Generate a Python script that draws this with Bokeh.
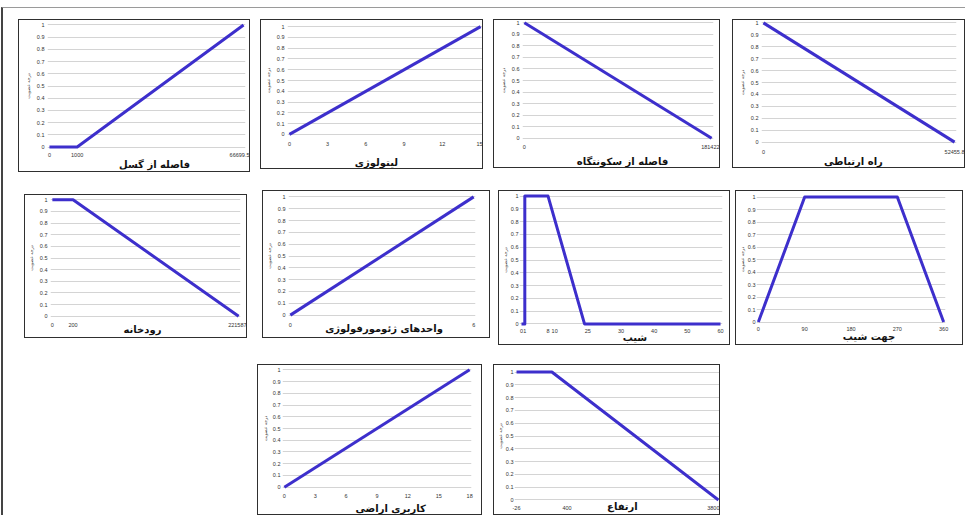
from bokeh.plotting import figure
from bokeh.layouts import row, column
from bokeh.models import Range1d, FixedTicker, PrintfTickFormatter, LinearAxis
from bokeh.embed import file_html
from bokeh.resources import INLINE

# ---------------- data ----------------
y_title = "درجه عضویت"
membership_ticks = [0, 0.1, 0.2, 0.3, 0.4, 0.5, 0.6, 0.7, 0.8, 0.9, 1]

fault_title = "فاصله از گسل"
fault_tick_pos = [0, 1, 7]
fault_tick_labels = ["0", "1000", "66699.5"]
fault_x = [0, 1, 7]
fault_mu = [0, 0, 1]

litho_title = "لیتولوژی"
litho_tick_pos = [0, 3, 6, 9, 12, 15]
litho_tick_labels = ["0", "3", "6", "9", "12", "15"]
litho_x = [0, 15]
litho_mu = [0, 1]

settle_title = "فاصله از سکونتگاه"
settle_tick_pos = [0, 181422]
settle_tick_labels = ["0", "181422"]
settle_x = [0, 181422]
settle_mu = [1, 0]

road_title = "راه ارتباطی"
road_tick_pos = [0, 52455.8]
road_tick_labels = ["0", "52455.8"]
road_x = [0, 52455.8]
road_mu = [1, 0]

river_title = "رودخانه"
river_tick_pos = [0, 1, 9]
river_tick_labels = ["0", "200", "221587"]
river_x = [0, 1, 9]
river_mu = [1, 1, 0]

geo_title = "واحدهای ژئومورفولوژی"
geo_tick_pos = [0, 6]
geo_tick_labels = ["0", "6"]
geo_x = [0, 6]
geo_mu = [0, 1]

slope_title = "شیب"
slope_tick_pos = [0, 1, 8, 10, 20, 30, 40, 50, 60]
slope_tick_labels = ["0", "1", "8", "10", "25", "30", "40", "50", "60"]
slope_x = [0, 1, 1, 8, 19, 60]
slope_mu = [0, 0, 1, 1, 0, 0]

aspect_title = "جهت شیب"
aspect_tick_pos = [0, 90, 180, 270, 360]
aspect_tick_labels = ["0", "90", "180", "270", "360"]
aspect_x = [0, 90, 270, 360]
aspect_mu = [0, 1, 1, 0]

landuse_title = "کاربری اراضی"
landuse_tick_pos = [0, 3, 6, 9, 12, 15, 18]
landuse_tick_labels = ["0", "3", "6", "9", "12", "15", "18"]
landuse_x = [0, 18]
landuse_mu = [0, 1]

elev_title = "ارتفاع"
elev_tick_pos = [0, 10, 40]
elev_tick_labels = ["-26", "400", "3800"]
elev_x = [0, 7, 40]
elev_mu = [1, 1, 0]

# ---------------- layout / style ----------------
LINE_COLOR = "#3d2fcc"
BOX_BORDER = "1.5px solid #2f2f2f"
TICK_FONT = "Liberation Sans"
TITLE_FONT = "DejaVu Sans"
TICK_LABEL_H = 7      # approx. height of a tick-label row
TITLE_HALF = 6        # approx. offset from title top to its visual centre


def plain_axis(ax):
    ax.axis_line_color = None
    ax.major_tick_line_color = None
    ax.minor_tick_line_color = None
    ax.major_tick_out = 0
    ax.major_tick_in = 0
    ax.minor_tick_out = 0
    ax.minor_tick_in = 0


def panel(box, data_px, title_px, mls, title, tick_pos, tick_labels, xs, mus,
          y_standoffs=(3, 3)):
    bl, bt, br, bb = box
    x0, x1, y1, y0 = data_px
    tcx, tcy = title_px
    w, h = br - bl, bb - bt
    xmin, xmax = min(xs), max(xs)
    padx = 0.01 * (xmax - xmin)
    px = 0.01 * (x1 - x0)
    py = 0.02 * (y0 - y1)
    p = figure(width=w, height=h, output_backend="svg", toolbar_location=None,
               title_location=None,
               x_range=Range1d(xmin - padx, xmax + padx),
               y_range=Range1d(-0.02, 1.02),
               min_border_left=round(x0 - bl - px - 2), min_border_right=round(br - x1 - px),
               min_border_top=round(y1 - bt - py - 2), min_border_bottom=round(bb - y0 - py))
    p.outline_line_color = None
    p.background_fill_color = "white"
    p.border_fill_color = "white"
    p.styles = {"border": BOX_BORDER, "box-sizing": "border-box"}
    p.xgrid.visible = False
    p.ygrid.grid_line_color = "#d4d4d4"
    p.ygrid.grid_line_width = 1

    ya = p.yaxis[0]
    plain_axis(ya)
    ya.ticker = FixedTicker(ticks=membership_ticks)
    ya.formatter = PrintfTickFormatter(format="%g")
    ya.major_label_text_font = TICK_FONT
    ya.major_label_text_font_size = "5.5px"
    ya.major_label_text_color = "#333333"
    ya.major_label_standoff = y_standoffs[0]
    ya.axis_label = y_title
    ya.axis_label_text_font = TITLE_FONT
    ya.axis_label_text_font_size = "4.5px"
    ya.axis_label_text_font_style = "normal"
    ya.axis_label_text_color = "#444444"
    ya.axis_label_standoff = y_standoffs[1]

    xa = p.xaxis[0]
    plain_axis(xa)
    xa.ticker = FixedTicker(ticks=tick_pos)
    xa.major_label_overrides = {t: s for t, s in zip(tick_pos, tick_labels)}
    xa.major_label_text_font = TICK_FONT
    xa.major_label_text_font_size = "5.5px"
    xa.major_label_text_color = "#333333"
    xa.major_label_standoff = mls

    p.line(xs, mus, line_width=3, line_color=LINE_COLOR, line_join="round")

    # x-axis title: a second axis below, with one labelled tick at the title's centre
    lx = xmin + (tcx - x0) / (x1 - x0) * (xmax - xmin)
    st2 = round(tcy - TITLE_HALF - (y0 + py) - mls - TICK_LABEL_H)
    ta = LinearAxis(ticker=FixedTicker(ticks=[lx]))
    plain_axis(ta)
    ta.major_label_overrides = {lx: title}
    ta.major_label_text_font = TITLE_FONT
    ta.major_label_text_font_size = "10px"
    ta.major_label_text_font_style = "bold"
    ta.major_label_text_color = "#111111"
    ta.major_label_standoff = st2
    p.add_layout(ta, "below")
    return p


p1 = panel((18, 19, 250, 172), (50, 242, 25, 146), (154, 163), 3, fault_title,
           fault_tick_pos, fault_tick_labels, fault_x, fault_mu)
p2 = panel((260, 19, 483, 169), (290, 479, 27, 134), (376, 162), 5, litho_title,
           litho_tick_pos, litho_tick_labels, litho_x, litho_mu)
p3 = panel((493, 19, 720, 168), (525, 710, 22, 140), (622, 163), 4, settle_title,
           settle_tick_pos, settle_tick_labels, settle_x, settle_mu)
p4 = panel((732, 19, 965, 168), (764, 953, 23, 144), (853, 163), 5, road_title,
           road_tick_pos, road_tick_labels, road_x, road_mu)
p5 = panel((24, 194, 247, 338), (53, 237, 200, 315), (142, 328), 4, river_title,
           river_tick_pos, river_tick_labels, river_x, river_mu)
p6 = panel((262, 190, 490, 338), (290, 472, 197, 314), (383, 327), 5, geo_title,
           geo_tick_pos, geo_tick_labels, geo_x, geo_mu)
p7 = panel((498, 190, 730, 345), (519, 719, 197, 322), (633, 335), 2, slope_title,
           slope_tick_pos, slope_tick_labels, slope_x, slope_mu, y_standoffs=(1, 0))
p8 = panel((735, 190, 963, 345), (756, 942, 197, 321), (867, 335), 2, aspect_title,
           aspect_tick_pos, aspect_tick_labels, aspect_x, aspect_mu, y_standoffs=(1, 0))
p9 = panel((257, 364, 482, 515), (285, 468, 370, 486), (390, 507), 4, landuse_title,
           landuse_tick_pos, landuse_tick_labels, landuse_x, landuse_mu, y_standoffs=(2, 2))
p10 = panel((493, 364, 720, 515), (513, 717, 373, 498), (620, 505), 3, elev_title,
            elev_tick_pos, elev_tick_labels, elev_x, elev_mu, y_standoffs=(1, 0))

# outer frame offset: margin (7 top, 1 left) + border (1 top, 2 left)
OX, OY = 3, 8
p1.margin = (19 - OY, 0, 0, 18 - OX)
p2.margin = (19 - OY, 0, 0, 10)
p3.margin = (19 - OY, 0, 0, 10)
p4.margin = (19 - OY, 0, 0, 12)
p5.margin = (22, 0, 0, 24 - OX)
p6.margin = (18, 0, 0, 15)
p7.margin = (18, 0, 0, 8)
p8.margin = (18, 0, 0, 5)
p9.margin = (19, 0, 0, 257 - OX)
p10.margin = (19, 0, 0, 11)


def wrap(p):
    # own container per panel, so frames are not aligned across a row
    return column(p)


layout = column(row(*[wrap(p) for p in (p1, p2, p3, p4)]),
                row(*[wrap(p) for p in (p5, p6, p7, p8)]),
                row(*[wrap(p) for p in (p9, p10)]),
                margin=(7, 0, 0, 1),
                styles={"border-top": "1px solid #9a9a9a", "border-left": "2px solid #444444"})

with open("out.html", "w") as f:
    f.write(file_html(layout, INLINE))
